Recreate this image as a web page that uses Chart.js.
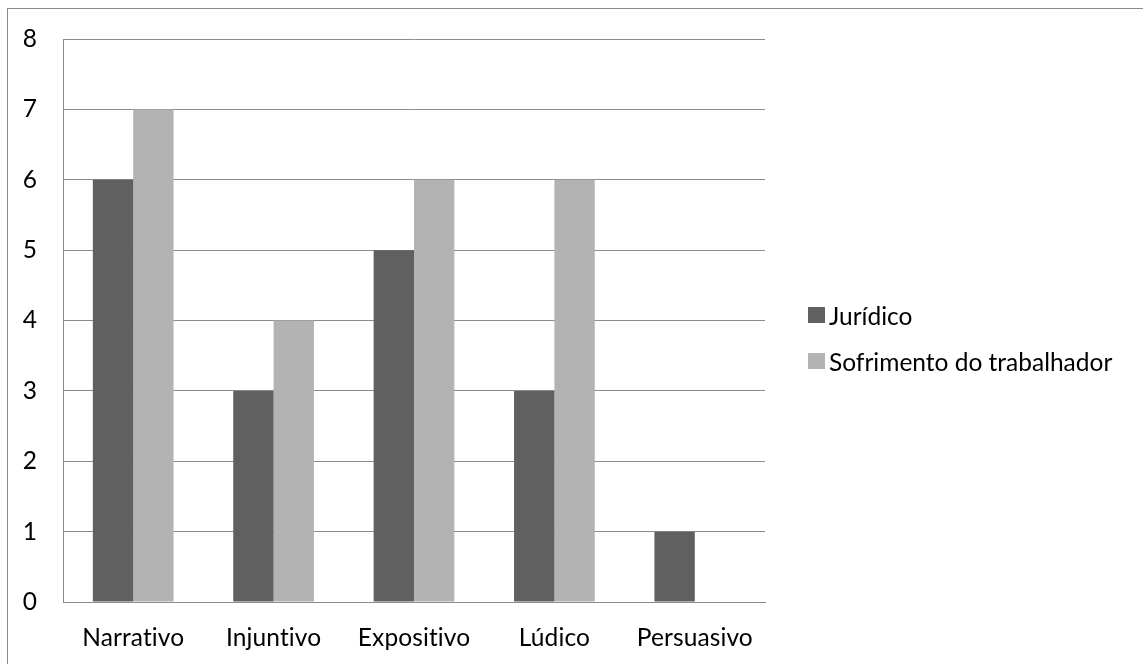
<!DOCTYPE html>
<html lang="pt">
<head>
<meta charset="UTF-8">
<title>Tipos de texto</title>
<script src="https://cdn.jsdelivr.net/npm/chart.js"></script>
<style>
    body {
        margin: 0;
        background: #fff;
        font-family: Lato, sans-serif;
        overflow: hidden;
    }
    #frame {
        position: absolute;
        left: 7px;
        top: 8px;
        width: 1200px;
        height: 720px;
        border: 1px solid #8c8c8c;
    }
    #chartBox {
        position: absolute;
        left: 9px;
        top: 9px;
        width: 1134px;
        height: 655px;
    }
    #legend {
        position: absolute;
        left: 808px;
        top: 300px;
        font-size: 24.5px;
        color: #000;
        font-variant-ligatures: none;
    }
    #legend div {
        display: flex;
        align-items: center;
        height: 30px;
        margin-bottom: 16px;
    }
    #legend span.box {
        display: inline-block;
        width: 17px;
        height: 16px;
        margin-right: 4px;
    }
</style>
</head>
<body>

<div id="frame"></div>
<div id="chartBox"><canvas id="textChart"></canvas></div>
<div id="legend"></div>

<script>
// categorias e séries
var categorias = ['Narrativo', 'Injuntivo', 'Expositivo', 'Lúdico', 'Persuasivo'];
var juridico = [6, 3, 5, 3, 1];
var sofrimento = [7, 4, 6, 6, 0];
var nomesSeries = ['Jurídico', 'Sofrimento do trabalhador'];
var coresSeries = ['#606060', '#b3b3b3'];
var ticksY = [0, 1, 2, 3, 4, 5, 6, 7, 8];

var corGrade = '#8c8c8c';
var fonte = { family: 'Lato', size: 24.5 };

// evita a ligadura "ti" do Lato nos rótulos do canvas
var semLigaduras = {
    id: 'semLigaduras',
    beforeDraw: function (chart) {
        chart.ctx.letterSpacing = '0.1px';
    }
};

var ctx = document.getElementById('textChart').getContext('2d');
var textChart = new Chart(ctx, {
    type: 'bar',
    data: {
        labels: categorias,
        datasets: [{
            label: nomesSeries[0],
            data: juridico,
            backgroundColor: coresSeries[0],
            borderWidth: 0
        }, {
            label: nomesSeries[1],
            data: sofrimento,
            backgroundColor: coresSeries[1],
            borderWidth: 0
        }]
    },
    options: {
        responsive: true,
        maintainAspectRatio: false,
        animation: false,
        datasets: {
            bar: {
                categoryPercentage: 0.575,
                barPercentage: 1.0
            }
        },
        layout: {
            padding: { left: 0, right: 378, top: 30, bottom: 0 }
        },
        plugins: {
            legend: { display: false },
            tooltip: { enabled: false }
        },
        scales: {
            x: {
                grid: { display: false, drawTicks: false },
                border: { display: true, color: corGrade, width: 1 },
                ticks: {
                    color: '#000',
                    padding: 21,
                    font: fonte
                },
                // altura fixa do eixo das categorias
                afterFit: function (axis) {
                    axis.height = 62;
                }
            },
            y: {
                min: ticksY[0],
                max: ticksY[ticksY.length - 1],
                afterBuildTicks: function (axis) {
                    axis.ticks = ticksY.map(function (v) { return { value: v }; });
                },
                grid: { color: corGrade, lineWidth: 1, drawTicks: false },
                border: { display: true, color: corGrade, width: 1 },
                ticks: {
                    color: '#000',
                    padding: 26,
                    font: fonte
                },
                afterFit: function (axis) {
                    axis.width = 54;
                    axis.paddingTop = 0;
                    axis.paddingBottom = 0;
                }
            }
        }
    },
    plugins: [semLigaduras]
});

// legenda à direita, feita a partir das séries do gráfico
var legendEl = document.getElementById('legend');
textChart.data.datasets.forEach(function (ds) {
    var row = document.createElement('div');
    var box = document.createElement('span');
    box.className = 'box';
    box.style.background = ds.backgroundColor;
    row.appendChild(box);
    row.appendChild(document.createTextNode(ds.label));
    legendEl.appendChild(row);
});
</script>

</body>
</html>
